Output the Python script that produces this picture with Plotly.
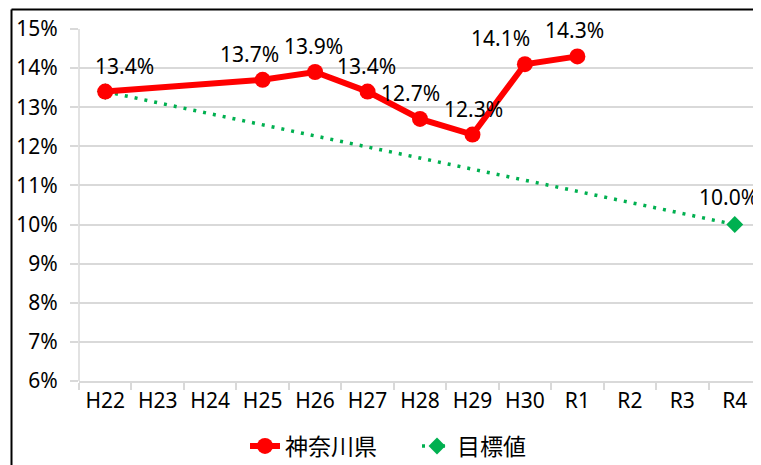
import plotly.graph_objects as go

categories = ["H22", "H23", "H24", "H25", "H26", "H27", "H28", "H29", "H30", "R1", "R2", "R3", "R4"]
kanagawa = [13.4, None, None, 13.7, 13.9, 13.4, 12.7, 12.3, 14.1, 14.3, None, None, None]
target = [13.4, None, None, None, None, None, None, None, None, None, None, None, 10.0]

# label offsets (styling only)
k_xshift = [19, 0, 0, -13, -2, -1, -10, 1, -24, -3, 0, 0, 0]

# the page has an 8px body margin, so the figure is sized/placed to compensate
OFF = 8
W, H = 761 - OFF, 465 - OFF
L, R, T = 79 - OFF, 0, 29 - OFF
pw, ph = W - L - R, 352
B = H - T - ph

FONT = "Noto Sans, Noto Sans CJK JP, sans-serif"
RED = "#FF0000"
GREEN = "#00B050"
GRID = "#D9D9D9"


def px_x(page_x):
    return (page_x - OFF - L) / pw


def px_y(page_y):
    return 1 - (page_y - OFF - T) / ph


fig = go.Figure()
fig.add_trace(go.Scatter(
    x=categories, y=target, name="目標値", mode="lines+markers",
    line=dict(color=GREEN, width=3.5, dash="3px,7px"),
    marker=dict(color=GREEN, size=13, symbol="diamond"),
    connectgaps=True,
))
fig.add_trace(go.Scatter(
    x=categories, y=kanagawa, name="神奈川県", mode="lines+markers",
    line=dict(color=RED, width=6), marker=dict(color=RED, size=16),
    connectgaps=True,
))

annotations = []
for i, (c, v) in enumerate(zip(categories, kanagawa)):
    if v is None:
        continue
    annotations.append(dict(x=c, y=v, text=f"{v:.1f}%", showarrow=False,
                            xshift=k_xshift[i], yshift=26,
                            font=dict(size=21, color="#000000", family=FONT)))
annotations.append(dict(x=categories[-1], y=target[-1], text=f"{target[-1]:.1f}%", showarrow=False,
                        xanchor="right", xshift=25, yshift=28,
                        font=dict(size=21, color="#000000", family=FONT)))

shapes = [
    dict(type="line", xref="paper", yref="paper",
         x0=px_x(11.5), x1=1.1, y0=px_y(9.5), y1=px_y(9.5),
         line=dict(color="#000000", width=2)),
    dict(type="line", xref="paper", yref="paper",
         x0=px_x(11.5), x1=px_x(11.5), y0=px_y(9.5), y1=-0.3,
         line=dict(color="#000000", width=2)),
    dict(type="line", xref="paper", yref="paper", x0=0, x1=0, y0=0, y1=1,
         line=dict(color=GRID, width=1.5), layer="below"),
]

fig.update_layout(
    width=W, height=H,
    margin=dict(l=L, r=R, t=T, b=B, autoexpand=False),
    paper_bgcolor="white", plot_bgcolor="white",
    font=dict(family=FONT, color="#000000"),
    showlegend=True,
    legend=dict(orientation="h", traceorder="reversed",
                x=px_x(245), xanchor="left", y=px_y(446), yanchor="middle",
                entrywidth=127, entrywidthmode="pixels",
                font=dict(size=23, family=FONT)),
    annotations=annotations,
    shapes=shapes,
)
fig.update_xaxes(
    type="category", categoryorder="array", categoryarray=categories,
    range=[-0.5, len(categories) - 0.5], automargin=False,
    showgrid=False, showline=True, linecolor=GRID, linewidth=1.5,
    ticks="outside", tickson="boundaries", ticklen=7, tickcolor=GRID, tickwidth=1.5,
    tickfont=dict(size=21, family=FONT), zeroline=False,
)
fig.update_yaxes(
    range=[6, 15], dtick=1, ticksuffix="%", automargin=False,
    showgrid=True, gridcolor=GRID, gridwidth=1.5,
    showline=False, zeroline=False, ticks="outside", ticklen=8, tickcolor=GRID, tickwidth=1.5,
    ticklabelstandoff=8,
    tickfont=dict(size=21, family=FONT),
)

fig.write_html("out.html")
